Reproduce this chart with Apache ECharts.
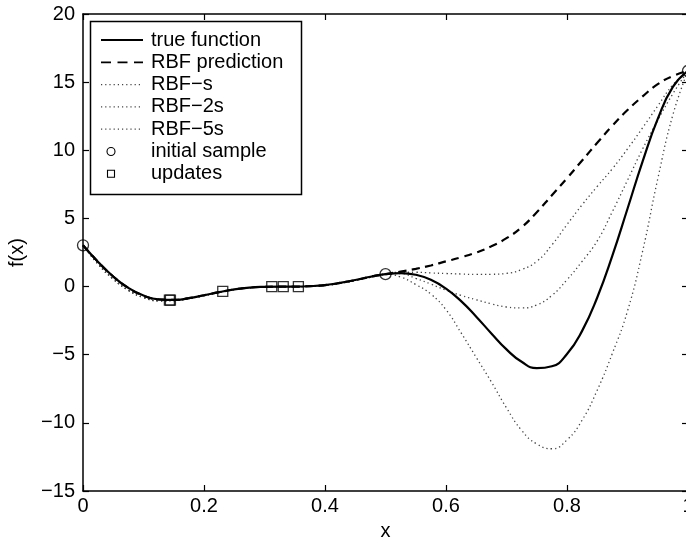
<!DOCTYPE html>
<html><head><meta charset="utf-8">
<script src="https://cdn.jsdelivr.net/npm/echarts@6/dist/echarts.min.js"></script>
<style>html,body{margin:0;padding:0;background:#fff}#c{width:686px;height:545px}</style>
</head><body><div id="c"></div>
<script>
// ---- data ----
const xs = [0, 0.025, 0.05, 0.075, 0.1, 0.125, 0.15, 0.175, 0.2, 0.225, 0.25, 0.275, 0.3, 0.325, 0.35, 0.375, 0.4, 0.425, 0.45, 0.475, 0.5,
  0.525, 0.55, 0.575, 0.6, 0.625, 0.65, 0.675, 0.7, 0.725, 0.75, 0.775, 0.8, 0.825, 0.85, 0.875, 0.9, 0.925, 0.95, 0.975, 1];
const trueFunction = [3.03, 1.81, 0.74, -0.10, -0.66, -0.94, -0.98, -0.85, -0.64, -0.41, -0.21, -0.08, -0.02, 0.00, 0.00, 0.03, 0.11, 0.27, 0.48, 0.72, 0.91,
  0.99, 0.87, 0.50, -0.15, -1.07, -2.21, -3.44, -4.61, -5.52, -5.99, -5.85, -4.95, -3.25, -0.80, 2.27, 5.71, 9.19, 12.30, 14.65, 15.83];
const rbfPrediction = [3.03, 1.81, 0.74, -0.10, -0.66, -0.94, -0.98, -0.85, -0.64, -0.41, -0.21, -0.08, -0.02, 0.00, 0.00, 0.03, 0.11, 0.27, 0.48, 0.72, 0.91,
  1.10, 1.30, 1.55, 1.85, 2.15, 2.50, 2.95, 3.55, 4.35, 5.45, 6.70, 7.95, 9.25, 10.55, 11.80, 12.95, 13.95, 14.85, 15.45, 15.83];
const rbfS = [3.03, 1.65, 0.55, -0.27, -0.80, -1.04, -1.03, -0.88, -0.66, -0.42, -0.22, -0.09, -0.03, 0.00, 0.00, 0.02, 0.09, 0.24, 0.44, 0.68, 0.91,
  1.05, 1.05, 1.00, 0.96, 0.92, 0.89, 0.90, 0.97, 1.25, 1.85, 3.05, 4.55, 6.00, 7.35, 8.65, 10.10, 11.65, 13.25, 14.80, 15.83];
const rbf2S = [3.03, 1.65, 0.55, -0.27, -0.80, -1.04, -1.03, -0.88, -0.66, -0.42, -0.22, -0.09, -0.03, 0.00, 0.00, 0.02, 0.09, 0.24, 0.44, 0.68, 0.91,
  0.95, 0.60, 0.18, -0.26, -0.65, -0.97, -1.27, -1.50, -1.57, -1.35, -0.65, 0.50, 1.85, 3.35, 5.50, 7.80, 10.10, 12.20, 14.15, 15.83];
const rbf5S = [3.03, 1.65, 0.55, -0.27, -0.80, -1.04, -1.03, -0.88, -0.66, -0.42, -0.22, -0.09, -0.03, 0.00, 0.00, 0.02, 0.09, 0.24, 0.44, 0.68, 0.91,
  0.70, 0.15, -0.55, -1.70, -3.40, -5.20, -7.00, -8.90, -10.55, -11.55, -11.90, -11.25, -9.80, -7.60, -4.90, -1.80, 2.60, 7.90, 12.60, 15.83];
const initialSampleX = [0, 0.5, 1];
const initialSampleY = [3.03, 0.91, 15.83];
const updatesX = [0.1428, 0.1445, 0.231, 0.312, 0.331, 0.356];
const updatesY = [-0.99, -0.99, -0.355, -0.01, 0.00, 0.00];
const xTickLabels = ['0', '0.2', '0.4', '0.6', '0.8', '1'];
const yTickLabels = ['\u221215', '\u221210', '\u22125', '0', '5', '10', '15', '20'];
const legendLabels = ['true function', 'RBF prediction', 'RBF\u2212s', 'RBF\u22122s', 'RBF\u22125s', 'initial sample', 'updates'];

// ---- chart ----
const FONT = '"Liberation Sans", Arial, Helvetica, sans-serif';
const pairs = (a, b) => a.map((v, i) => [v, b[i]]);
const xLab = v => { const i = Math.round(v / 0.2); return xTickLabels[i] !== undefined ? xTickLabels[i] : ''; };
const yLab = v => { const i = Math.round((v + 15) / 5); return yTickLabels[i] !== undefined ? yTickLabels[i] : ''; };

const axisCommon = {
  type: 'value',
  axisLine: { show: true, onZero: false, lineStyle: { color: '#000', width: 1.5 } },
  axisTick: { show: true, inside: true, length: 6, lineStyle: { color: '#000', width: 1.2 } },
  splitLine: { show: false },
  minorTick: { show: false }
};

const dotted = { color: '#444', width: 1.3, type: [1.3, 3] };

const rowY = i => 40 + i * 22.3;
const legendEls = [
  { type: 'rect', shape: { x: 90.5, y: 21.5, width: 211, height: 173 }, style: { fill: '#fff', stroke: '#000', lineWidth: 1.5 } }
];
const lineStyles = [
  { stroke: '#000', lineWidth: 1.8 },
  { stroke: '#000', lineWidth: 1.8, lineDash: [10, 6.5] },
  { stroke: '#444', lineWidth: 1.2, lineDash: [1.2, 3] },
  { stroke: '#444', lineWidth: 1.2, lineDash: [1.2, 3] },
  { stroke: '#444', lineWidth: 1.2, lineDash: [1.2, 3] }
];
legendLabels.forEach((t, i) => {
  const y = rowY(i);
  if (i < 5) {
    legendEls.push({ type: 'line', shape: { x1: 101, y1: y, x2: 143, y2: y }, style: lineStyles[i] });
  } else if (i === 5) {
    legendEls.push({ type: 'circle', shape: { cx: 111, cy: y, r: 4 }, style: { fill: 'none', stroke: '#000', lineWidth: 1.1 } });
  } else {
    legendEls.push({ type: 'rect', shape: { x: 107.5, y: y - 3.5, width: 7, height: 7 }, style: { fill: 'none', stroke: '#000', lineWidth: 1.1 } });
  }
  legendEls.push({ type: 'text', x: 151, y: y, style: { text: t, fill: '#000', font: '20px ' + FONT, fontSize: 20, fontFamily: FONT, textVerticalAlign: 'middle', verticalAlign: 'middle' } });
});

const option = {
  backgroundColor: '#fff',
  animation: false,
  textStyle: { fontFamily: FONT, color: '#000' },
  grid: { left: 83, top: 14, width: 605, height: 477, containLabel: false, outerBoundsMode: 'none' },
  xAxis: [
    Object.assign({}, axisCommon, {
      position: 'bottom', min: 0, max: 1, interval: 0.2,
      axisLabel: { show: true, formatter: xLab, color: '#000', fontSize: 20, fontFamily: FONT, margin: 5, hideOverlap: false, showMaxLabel: true, showMinLabel: true },
      name: 'x', nameLocation: 'middle', nameGap: 30, nameMoveOverlap: false,
      nameTextStyle: { color: '#000', fontSize: 20, fontFamily: FONT }
    }),
    Object.assign({}, axisCommon, { position: 'top', min: 0, max: 1, interval: 0.2, axisLabel: { show: false } })
  ],
  yAxis: [
    Object.assign({}, axisCommon, {
      position: 'left', min: -15, max: 20, interval: 5,
      axisLabel: { show: true, formatter: yLab, color: '#000', fontSize: 20, fontFamily: FONT, margin: 8, hideOverlap: false, showMaxLabel: true, showMinLabel: true },
      name: 'f(x)', nameLocation: 'middle', nameGap: 56, nameMoveOverlap: false,
      nameTextStyle: { color: '#000', fontSize: 20, fontFamily: FONT }
    }),
    Object.assign({}, axisCommon, { position: 'right', min: -15, max: 20, interval: 5, axisLabel: { show: false } })
  ],
  series: [
    { name: legendLabels[2], type: 'line', data: pairs(xs, rbfS), smooth: true, symbol: 'none', lineStyle: dotted, z: 2 },
    { name: legendLabels[3], type: 'line', data: pairs(xs, rbf2S), smooth: true, symbol: 'none', lineStyle: dotted, z: 2 },
    { name: legendLabels[4], type: 'line', data: pairs(xs, rbf5S), smooth: true, symbol: 'none', lineStyle: dotted, z: 2 },
    { name: legendLabels[1], type: 'line', data: pairs(xs, rbfPrediction), smooth: true, symbol: 'none', lineStyle: { color: '#000', width: 2.2, type: [8, 5.5] }, z: 3 },
    { name: legendLabels[0], type: 'line', data: pairs(xs, trueFunction), smooth: true, symbol: 'none', lineStyle: { color: '#000', width: 2.2, type: 'solid' }, z: 4 },
    { name: legendLabels[5], type: 'scatter', data: pairs(initialSampleX, initialSampleY), symbol: 'circle', symbolSize: 11, clip: false,
      itemStyle: { color: 'rgba(0,0,0,0)', borderColor: '#000', borderWidth: 1.3 }, z: 6 },
    { name: legendLabels[6], type: 'scatter', data: pairs(updatesX, updatesY), symbol: 'rect', symbolSize: 10, clip: false,
      itemStyle: { color: 'rgba(0,0,0,0)', borderColor: '#000', borderWidth: 1.3 }, z: 6 }
  ],
  graphic: [{ type: 'group', z: 100, children: legendEls }]
};
const chart = echarts.init(document.getElementById('c'), null, { renderer: 'canvas' });
chart.setOption(option);
</script></body></html>
